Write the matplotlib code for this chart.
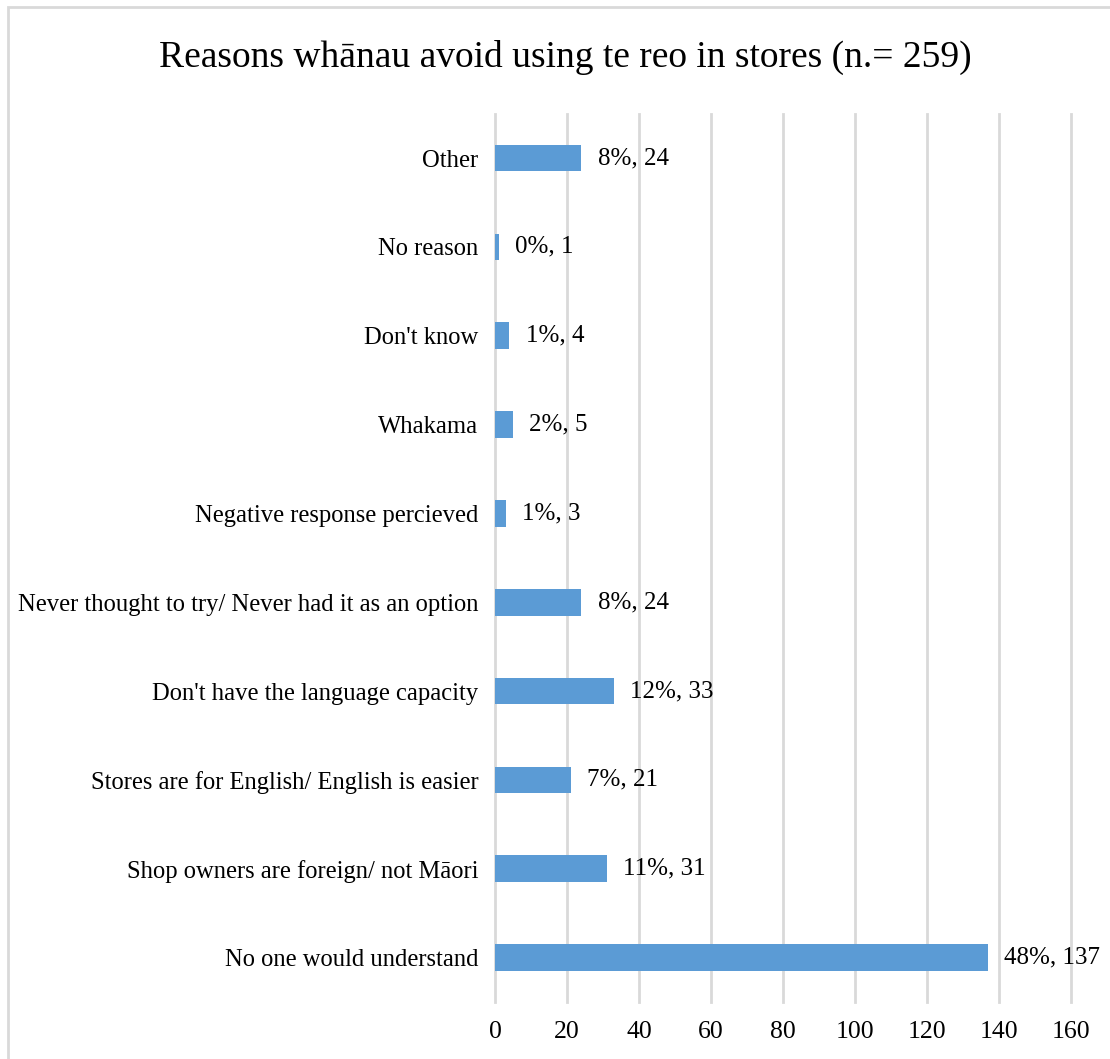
import matplotlib.pyplot as plt
from matplotlib.patches import Rectangle

# responses, listed bottom to top
reasons = [
    "No one would understand",
    "Shop owners are foreign/ not Māori",
    "Stores are for English/ English is easier",
    "Don't have the language capacity",
    "Never thought to try/ Never had it as an option",
    "Negative response percieved",
    "Whakama",
    "Don't know",
    "No reason",
    "Other",
]
counts = [137, 31, 21, 33, 24, 3, 5, 4, 1, 24]
percents = [48, 11, 7, 12, 8, 1, 2, 1, 0, 8]

plt.rcParams["font.family"] = ["Liberation Serif", "DejaVu Serif"]

fig = plt.figure(figsize=(11.1, 10.59), dpi=100)
ax = fig.add_axes([0.4459, 0.0538, 0.5189, 0.8389])

# outer frame
fig.patches.append(Rectangle((8 / 1110, -0.05), 1.2, 1 - 7 / 1059 + 0.05,
                             transform=fig.transFigure, fill=False,
                             edgecolor="#d9d9d9", linewidth=2))

ypos = range(len(reasons))
ax.barh(ypos, counts, height=0.3, color="#5b9bd5", zorder=3)
for y, c, p in zip(ypos, counts, percents):
    ax.text(c + 4.5, y, f"{p}%, {c}", va="center", ha="left", fontsize=18)

ax.set_xlim(0, 160)
ax.set_ylim(-0.5, len(reasons) - 0.5)
ax.set_xticks(range(0, 161, 20))
ax.set_yticks(list(ypos))
ax.set_yticklabels(reasons)
ax.tick_params(length=0)
ax.tick_params(axis="x", pad=14, labelsize=18.5)
ax.tick_params(axis="y", pad=12, labelsize=17.7)
ax.grid(axis="x", color="#d9d9d9", linewidth=2, zorder=0)
for line in ax.get_xgridlines():
    line.set_clip_on(False)
for s in ax.spines.values():
    s.set_visible(False)

fig.text(0.509, 0.946, "Reasons whānau avoid using te reo in stores (n.= 259)",
         ha="center", va="center", fontsize=27)

fig.savefig("out.png", dpi=100)
